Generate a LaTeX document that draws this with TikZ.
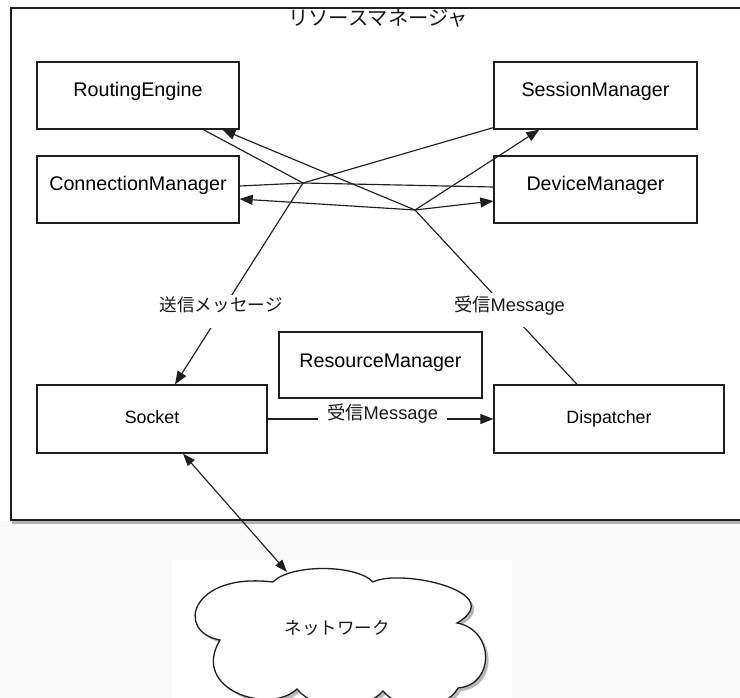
\documentclass[tikz,border=0pt]{standalone}
\usepackage{fontspec}
\setmainfont{Liberation Sans}
\newfontfamily\jpfont{Noto Sans CJK JP}
\usetikzlibrary{arrows.meta}

% outline of the network cloud
\newcommand\netcloud{(273,582) .. controls (290,564) and (356,564) .. (373,582)
  .. controls (400,568) and (510,592) .. (457,623)
  .. controls (495,630) and (495,685) .. (458,688)
  .. controls (445,712) and (400,712) .. (383,691)
  .. controls (365,712) and (315,712) .. (297,689)
  .. controls (270,715) and (190,690) .. (220,640)
  .. controls (175,632) and (190,572) .. (273,582) -- cycle}

\begin{document}
\begin{tikzpicture}[x=1pt,y=-1pt,
  ink/.style={draw=black!88},
  box/.style={ink, line width=1.3pt, fill=white, inner sep=0pt,
    text height=14pt, text depth=11pt, font=\fontsize{19.7}{23}\selectfont},
  endpoint/.style={box, font=\fontsize{17.8}{21}\selectfont, text height=13pt, text depth=5pt},
  conn/.style={ink, line width=1.15pt},
  arrow/.style={conn, -{Triangle[length=13pt,width=10pt]}},
  dblarrow/.style={conn, {Triangle[length=12.5pt,width=9pt]}-{Triangle[length=12.5pt,width=9pt]}},
  msg/.style={fill=white, inner xsep=2pt, inner ysep=0pt, text=black!90,
    font=\fontsize{18.3}{21}\selectfont},
]
\useasboundingbox (0,0) rectangle (740,698);
\clip (0,0) rectangle (740,698);

% page background and the outer frame with its shadow
\fill[white] (0,0) rectangle (740,698);
\fill[black!2.5] (0,521) rectangle (740,698);
\fill[white] (172,560) rectangle (512,698);
\fill[black!30] (12,11) rectangle (765,523.5);
\draw[ink, line width=1.3pt, fill=white] (11,8) rectangle (765,520);

\node[font=\jpfont\fontsize{20.3}{24}\selectfont, text=black!90] (title) at (378,18) {リソースマネージャ};

% components
\node[box, minimum width=202pt, minimum height=67pt] (re) at (138,95.5) {RoutingEngine};
\node[box, minimum width=203pt, minimum height=67pt] (sm) at (595.5,95.5) {SessionManager};
\node[box, minimum width=202pt, minimum height=67pt] (cm) at (138,189.5) {ConnectionManager};
\node[box, minimum width=203pt, minimum height=67pt] (dm) at (595.5,189.5) {DeviceManager};
\node[box, minimum width=203pt, minimum height=66pt, text depth=10pt] (rm) at (380.5,365) {ResourceManager};
\node[endpoint, minimum width=230pt, minimum height=68pt] (sock) at (152,419) {Socket};
\node[endpoint, minimum width=230pt, minimum height=68pt] (disp) at (609,419) {Dispatcher};

% junctions of the outgoing and incoming message flows
\coordinate (A) at (303,183);
\coordinate (B) at (415,210);

% outgoing messages gathered towards the socket
\draw[conn] ([xshift=167pt]re.south west) -- (A);
\draw[conn] ([yshift=2pt]sm.south west) -- (A);
\draw[conn] ([yshift=3.5pt]cm.east) -- (A);
\draw[conn] ([yshift=2.5pt]dm.west) -- (A);
\draw[arrow] (A) -- node[msg, pos=0.639, anchor=base, text height=17pt, text depth=16pt,
    font=\jpfont\fontsize{17.6}{20}\selectfont] (send) {送信メッセージ} ([xshift=23pt]sock.north);

% incoming messages spread from the dispatcher
\draw[conn] ([xshift=-32pt]disp.north) -- node[msg, pos=0.417, anchor=base, text height=19pt, text depth=15pt]
    (recvtop) {{\jpfont 受信}Message} (B);
\draw[arrow] (B) -- ([xshift=186pt]re.south west);
\draw[arrow] (B) -- ([xshift=46pt]sm.south west);
\draw[arrow] (B) -- ([yshift=-9.5pt]cm.east);
\draw[arrow] (B) -- ([yshift=-11.5pt]dm.west);

\draw[arrow] (sock.east) -- node[msg, pos=0.509, anchor=base, inner xsep=9pt]
    (recvmid) {{\jpfont 受信}Message} (disp.west);

% network cloud
\coordinate (cloudtop) at (287,572);
\fill[black!28, shift={(3,3)}] \netcloud;
\draw[ink, line width=1.3pt, fill=white] \netcloud;
\node[font=\jpfont\fontsize{17.5}{20}\selectfont, text=black!90] (net) at (337,628) {ネットワーク};

\draw[dblarrow] ([xshift=31pt]sock.south) -- (cloudtop);
\end{tikzpicture}
\end{document}
